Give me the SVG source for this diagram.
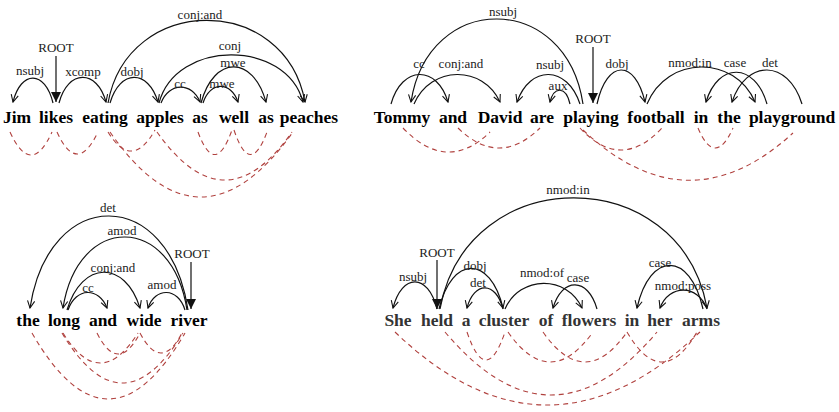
<svg xmlns="http://www.w3.org/2000/svg" width="839" height="412" viewBox="0 0 839 412">
<style>
.w{font-family:"Liberation Serif","Times New Roman",serif;font-weight:bold;font-size:17.5px;fill:#000;text-anchor:middle}
.g{fill:#333}
.l{font-family:"Liberation Serif","Times New Roman",serif;font-size:13px;fill:#222;text-anchor:middle}
.a{fill:none;stroke:#111;stroke-width:1.2;marker-end:url(#ah)}
.r{fill:none;stroke:#111;stroke-width:1.2;marker-end:url(#rh)}
.d{fill:none;stroke:#b0413e;stroke-width:1.1;stroke-dasharray:5 4}
</style>
<defs>
<marker id="ah" viewBox="0 0 10 10" refX="9" refY="5" markerWidth="9" markerHeight="9" markerUnits="userSpaceOnUse" orient="auto">
<path d="M1,1 L9,5 L1,9" fill="none" stroke="#111" stroke-width="1.2"/>
</marker>
<marker id="rh" viewBox="0 0 10 10" refX="10" refY="5" markerWidth="11" markerHeight="10" markerUnits="userSpaceOnUse" orient="auto">
<path d="M0,0 L10,5 L0,10 z" fill="#111"/>
</marker>
</defs>
<rect width="839" height="412" fill="#fff"/>

<!-- Sentence 1 words -->
<g id="s1-jim"><text class="w" x="17" y="123">Jim</text></g>
<g id="s1-likes"><text class="w" x="56" y="123">likes</text></g>
<g id="s1-eating"><text class="w" x="105" y="123">eating</text></g>
<g id="s1-apples"><text class="w" x="160" y="123">apples</text></g>
<g id="s1-as1"><text class="w" x="200" y="123">as</text></g>
<g id="s1-well"><text class="w" x="234" y="123">well</text></g>
<g id="s1-as2"><text class="w" x="266" y="123">as</text></g>
<g id="s1-peaches"><text class="w" x="309" y="123">peaches</text></g>

<!-- Sentence 2 words -->
<g id="s2-tommy"><text class="w" x="402" y="123">Tommy</text></g>
<g id="s2-and"><text class="w" x="453" y="123">and</text></g>
<g id="s2-david"><text class="w" x="500" y="123">David</text></g>
<g id="s2-are"><text class="w" x="542" y="123">are</text></g>
<g id="s2-playing"><text class="w" x="591" y="123">playing</text></g>
<g id="s2-football"><text class="w" x="656" y="123">football</text></g>
<g id="s2-in"><text class="w" x="701" y="123">in</text></g>
<g id="s2-the"><text class="w" x="729" y="123">the</text></g>
<g id="s2-playground"><text class="w" x="792" y="123">playground</text></g>

<!-- Sentence 3 words -->
<g id="s3-the"><text class="w" x="28" y="326">the</text></g>
<g id="s3-long"><text class="w" x="64" y="326">long</text></g>
<g id="s3-and"><text class="w" x="103" y="326">and</text></g>
<g id="s3-wide"><text class="w" x="144" y="326">wide</text></g>
<g id="s3-river"><text class="w" x="189" y="326">river</text></g>

<!-- Sentence 4 words -->
<g id="s4-she"><text class="w g" x="398" y="326">She</text></g>
<g id="s4-held"><text class="w g" x="437" y="326">held</text></g>
<g id="s4-a"><text class="w g" x="466" y="326">a</text></g>
<g id="s4-cluster"><text class="w g" x="504" y="326">cluster</text></g>
<g id="s4-of"><text class="w g" x="546" y="326">of</text></g>
<g id="s4-flowers"><text class="w g" x="589" y="326">flowers</text></g>
<g id="s4-in"><text class="w g" x="632" y="326">in</text></g>
<g id="s4-her"><text class="w g" x="660" y="326">her</text></g>
<g id="s4-arms"><text class="w g" x="701" y="326">arms</text></g>

<g id="connectors">
<!-- Sentence 1 dependencies -->
<path class="a" d="M53,103 C45,70 21,70 13,102"/><text class="l" x="30" y="75">nsubj</text>
<path class="r" d="M56,56 L56,102"/><text class="l" x="56" y="52">ROOT</text>
<path class="a" d="M59,103 C68,69 97,69 106,102"/><text class="l" x="83" y="76">xcomp</text>
<path class="a" d="M110,103 C120,69 148,69 158,102"/><text class="l" x="132" y="76">dobj</text>
<path class="a" d="M108,103 C128,-7 285,-7 305,102"/><text class="l" x="200" y="19">conj:and</text>
<path class="a" d="M159,103 C176,39 286,39 303,102"/><text class="l" x="230" y="50">conj</text>
<path class="a" d="M161,103 C169,82 192,82 200,102"/><text class="l" x="180" y="88">cc</text>
<path class="a" d="M201,103 C214,55 253,55 266,102"/><text class="l" x="233" y="67">mwe</text>
<path class="a" d="M203,103 C210,81 231,81 238,102"/><text class="l" x="222" y="88">mwe</text>

<!-- Sentence 2 dependencies -->
<path class="a" d="M391,104 C402,65 437,65 448,102"/><text class="l" x="419" y="68">cc</text>
<path class="a" d="M414,104 C431,65 483,65 500,102"/><text class="l" x="461" y="68">conj:and</text>
<path class="a" d="M583,104 C566,-9 428,-9 411,102"/><text class="l" x="503" y="16">nsubj</text>
<path class="a" d="M580,104 C567,65 530,65 517,102"/><text class="l" x="550" y="69">nsubj</text>
<path class="a" d="M570,104 C566,86 554,86 550,102"/><text class="l" x="558" y="90">aux</text>
<path class="r" d="M593,47 L593,103"/><text class="l" x="593" y="43">ROOT</text>
<path class="a" d="M597,104 C607,59 635,59 645,102"/><text class="l" x="617" y="68">dobj</text>
<path class="a" d="M647,104 C667,55 735,55 755,102"/><text class="l" x="690" y="67">nmod:in</text>
<path class="a" d="M767,104 C755,62 718,62 706,102"/><text class="l" x="735" y="67">case</text>
<path class="a" d="M802,104 C788,59 746,59 732,102"/><text class="l" x="770" y="67">det</text>

<!-- Sentence 3 dependencies -->
<path class="a" d="M188,310 C169,185 49,185 30,308"/><text class="l" x="108" y="212">det</text>
<path class="a" d="M187,310 C172,213 78,213 63,308"/><text class="l" x="122" y="235">amod</text>
<path class="a" d="M67,310 C82,260 125,260 140,308"/><text class="l" x="113" y="272">conj:and</text>
<path class="a" d="M68,310 C76,287 99,287 107,308"/><text class="l" x="88" y="292">cc</text>
<path class="a" d="M185,310 C178,287 155,287 148,308"/><text class="l" x="162" y="289">amod</text>
<path class="r" d="M191,262 L191,309"/><text class="l" x="192" y="258">ROOT</text>

<!-- Sentence 4 dependencies -->
<path class="a" d="M437,309 C428,273 402,273 393,308"/><text class="l" x="413" y="281">nsubj</text>
<path class="r" d="M437,260 L437,309"/><text class="l" x="437" y="257">ROOT</text>
<path class="a" d="M439,309 C452,255 490,255 503,308"/><text class="l" x="475" y="270">dobj</text>
<path class="a" d="M503,309 C496,281 474,281 467,308"/><text class="l" x="478" y="287">det</text>
<path class="a" d="M440,309 C467,161 680,161 707,308"/><text class="l" x="568" y="194">nmod:in</text>
<path class="a" d="M505,309 C520,275 567,275 582,308"/><text class="l" x="542" y="277">nmod:of</text>
<path class="a" d="M597,309 C588,277 562,277 553,308"/><text class="l" x="578" y="282">case</text>
<path class="a" d="M703,309 C690,251 650,251 637,308"/><text class="l" x="660" y="267">case</text>
<path class="a" d="M707,309 C698,284 669,284 660,308"/><text class="l" x="683" y="290">nmod:poss</text>

<!-- Dashed arcs sentence 1 -->
<path class="d" d="M10,132 Q31,178 52,132"/>
<path class="d" d="M57,132 Q77,176 98,132"/>
<path class="d" d="M108,132 Q132,171 155,130"/>
<path class="d" d="M157,132 Q225,228 292,132"/>
<path class="d" d="M110,132 Q200,262 293,132"/>
<path class="d" d="M198,132 Q215,178 232,130"/>
<path class="d" d="M234,130 Q250,178 267,132"/>

<!-- Dashed arcs sentence 2 -->
<path class="d" d="M403,128 Q447,174 490,132"/>
<path class="d" d="M458,128 Q499,168 540,128"/>
<path class="d" d="M580,128 Q621,172 662,128"/>
<path class="d" d="M698,128 Q715,168 733,128"/>
<path class="d" d="M583,130 Q688,229 793,133"/>

<!-- Dashed arcs sentence 3 -->
<path class="d" d="M32,333 Q108,465 185,333"/>
<path class="d" d="M62,333 Q122,433 183,333"/>
<path class="d" d="M63,333 Q100,393 138,333"/>
<path class="d" d="M97,333 Q118,375 140,333"/>
<path class="d" d="M140,333 Q161,373 182,333"/>

<!-- Dashed arcs sentence 4 -->
<path class="d" d="M395,332 Q547,478 700,332"/>
<path class="d" d="M445,332 Q551,458 657,332"/>
<path class="d" d="M467,332 Q486,388 505,332"/>
<path class="d" d="M508,332 Q550,392 593,332"/>
<path class="d" d="M543,332 Q585,392 627,332"/>
<path class="d" d="M627,332 Q662,392 697,332"/>
</g>
</svg>
